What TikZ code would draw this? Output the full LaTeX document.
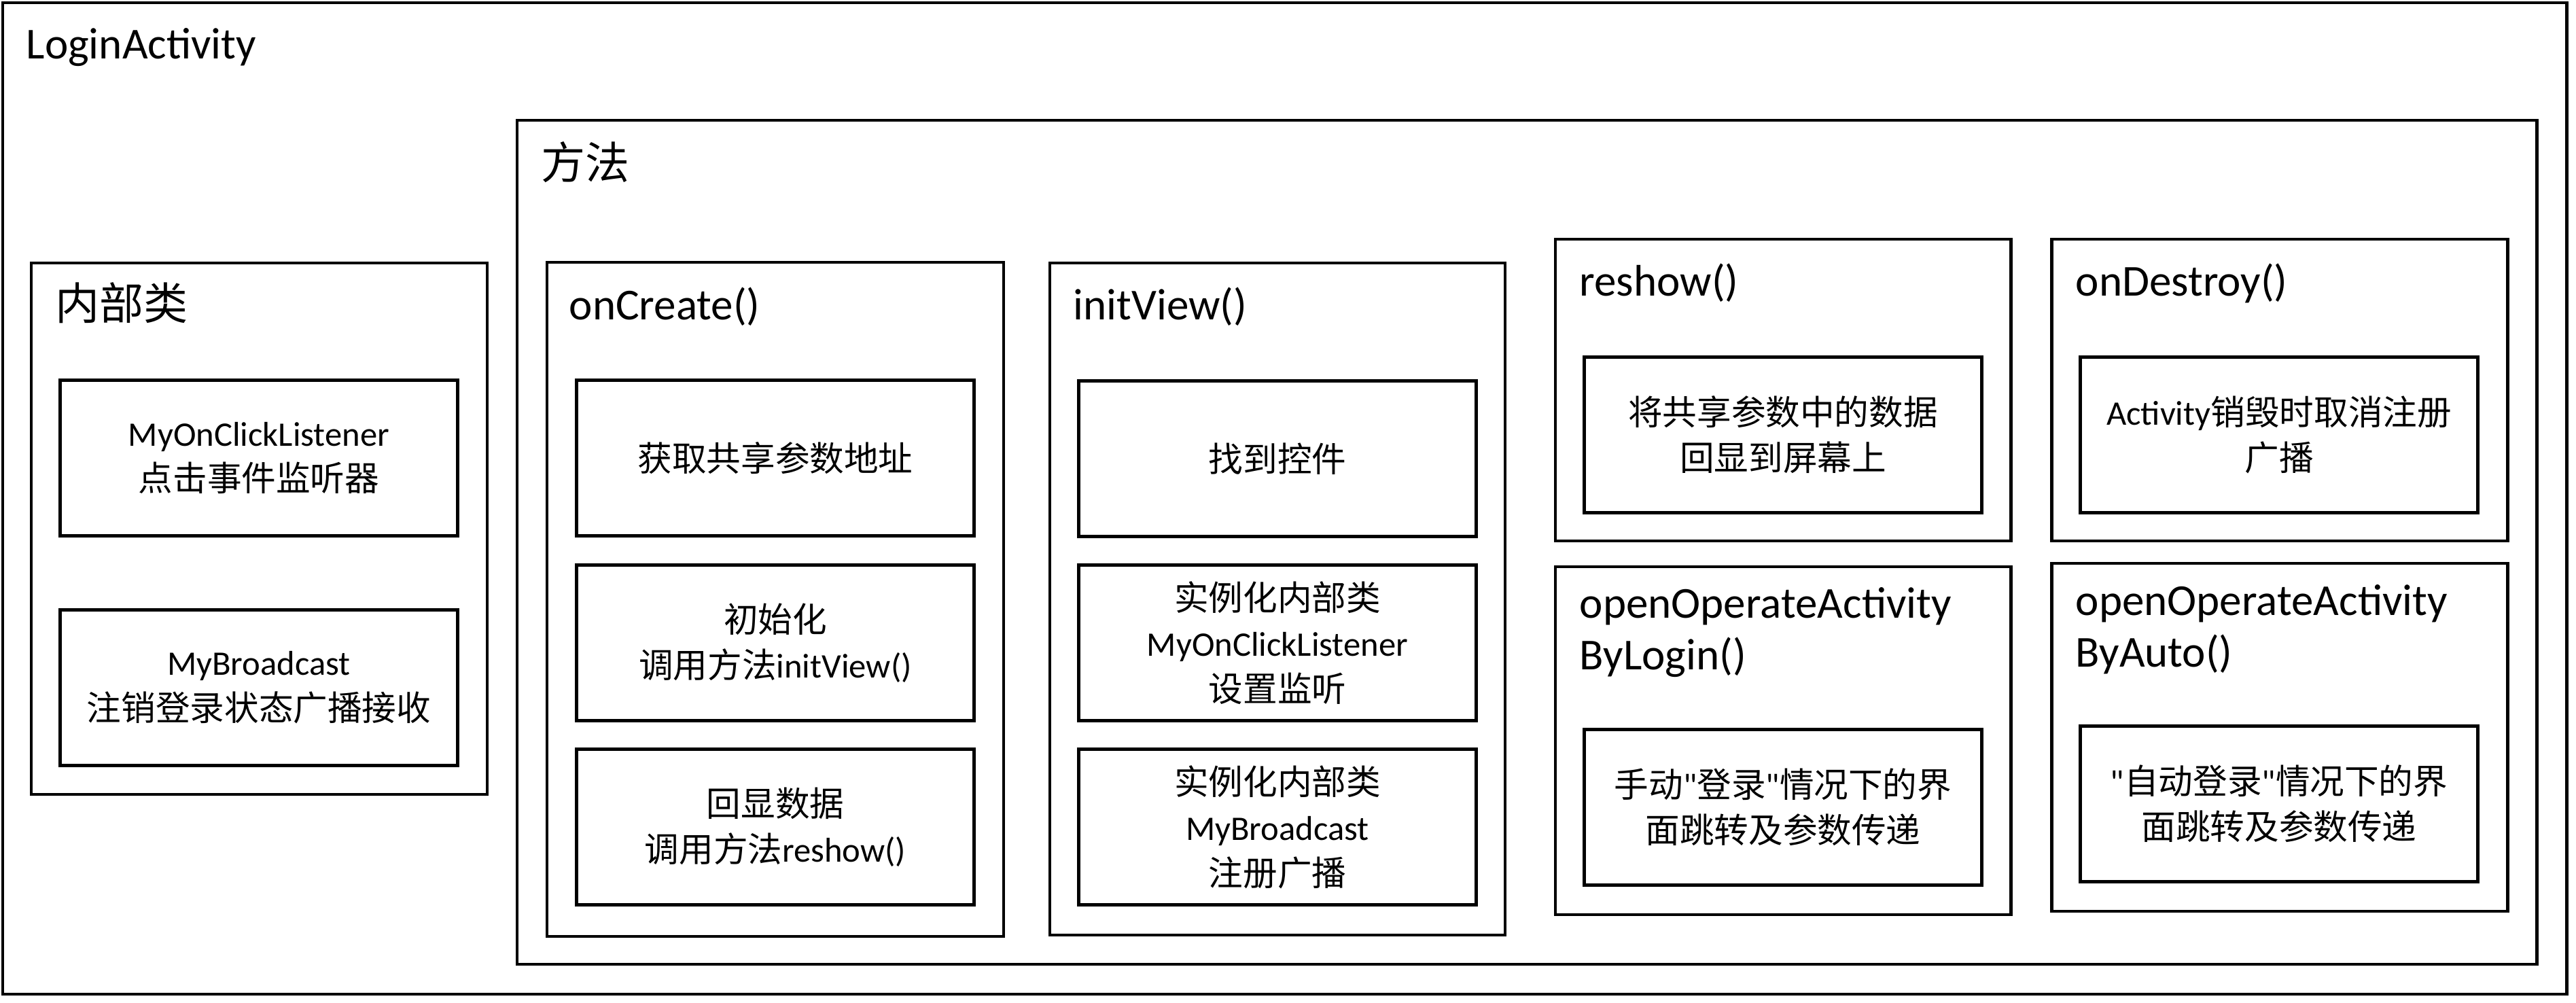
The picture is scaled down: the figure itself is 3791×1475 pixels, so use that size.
\documentclass[tikz,border=0pt]{standalone}
\usepackage{fontspec}
\setmainfont{Carlito}
\newfontfamily\cjk{Noto Sans CJK SC}
\tikzset{
	box/.style={line width=1.4pt},
	head/.style={anchor=base west, inner sep=0pt, align=left, font=\fontsize{18.5pt}{21.5pt}\selectfont},
	item/.style={draw, line width=1.4pt, minimum width=5.84cm, minimum height=2.28cm, inner sep=0pt, align=center, font=\fontsize{14.4pt}{19pt}\selectfont}
}

\begin{document}
\begin{tikzpicture}[x=0.01cm, y=-0.01cm]
			%%%%% START %%%%%
			
			\fill[white] (0, 0) rectangle (3791, 1475);
			\useasboundingbox (0, 0) rectangle (3791, 1475);
			
			\draw[box] (4, 4) rectangle (3777, 1463);
			\node[head] (login) at (38, 86) {LoginActivity};
			
			\draw[box] (761, 177) rectangle (3733, 1419);
			\node[head] (methods) at (796, 263) {\cjk 方法};
			
			% inner classes
			\draw[box] (46, 387) rectangle (717, 1169);
			\node[head] (inner) at (81, 470) {\cjk 内部类};
			\node[item] (listener) at (381, 674) {MyOnClickListener\\{\cjk 点击事件监听器}};
			\node[item] (broadcast) at (381, 1012) {MyBroadcast\\{\cjk 注销登录状态广播接收}};
			
			% onCreate
			\draw[box] (805, 386) rectangle (1477, 1378);
			\node[head] (create) at (837, 470) {onCreate()};
			\node[item] (prefs) at (1141, 674) {\cjk 获取共享参数地址};
			\node[item] (init) at (1141, 946) {{\cjk 初始化}\\{\cjk 调用方法}initView()};
			\node[item] (echo) at (1141, 1217) {{\cjk 回显数据}\\{\cjk 调用方法}reshow()};
			
			% initView
			\draw[box] (1545, 387) rectangle (2215, 1376);
			\node[head] (view) at (1579, 470) {initView()};
			\node[item] (find) at (1880, 675) {\cjk 找到控件};
			\node[item] (newlistener) at (1880, 946) {{\cjk 实例化内部类}\\MyOnClickListener\\{\cjk 设置监听}};
			\node[item] (newbroadcast) at (1880, 1217) {{\cjk 实例化内部类}\\MyBroadcast\\{\cjk 注册广播}};
			
			% reshow / onDestroy
			\draw[box] (2289, 352) rectangle (2959, 796);
			\node[head] (reshow) at (2324, 435) {reshow()};
			\node[item] (restore) at (2624, 640) {{\cjk 将共享参数中的数据}\\{\cjk 回显到屏幕上}};
			
			\draw[box] (3019, 352) rectangle (3690, 796);
			\node[head] (destroy) at (3054, 435) {onDestroy()};
			\node[item] (unregister) at (3354, 640) {Activity{\cjk 销毁时取消注册}\\{\cjk 广播}};
			
			% openOperateActivity...
			\draw[box] (2289, 834) rectangle (2959, 1346);
			\node[head] (bylogin) at (2324, 985) {openOperateActivity\\ByLogin()};
			\node[item] (manual) at (2624, 1188) {{\cjk 手动}\textquotedbl{\cjk 登录}\textquotedbl{\cjk 情况下的界}\\{\cjk 面跳转及参数传递}};
			
			\draw[box] (3019, 829) rectangle (3690, 1341);
			\node[head] (byauto) at (3054, 981) {openOperateActivity\\ByAuto()};
			\node[item] (auto) at (3354, 1183) {\textquotedbl{\cjk 自动登录}\textquotedbl{\cjk 情况下的界}\\{\cjk 面跳转及参数传递}};
			
			%%%%% END %%%%%
\end{tikzpicture}
\end{document}
